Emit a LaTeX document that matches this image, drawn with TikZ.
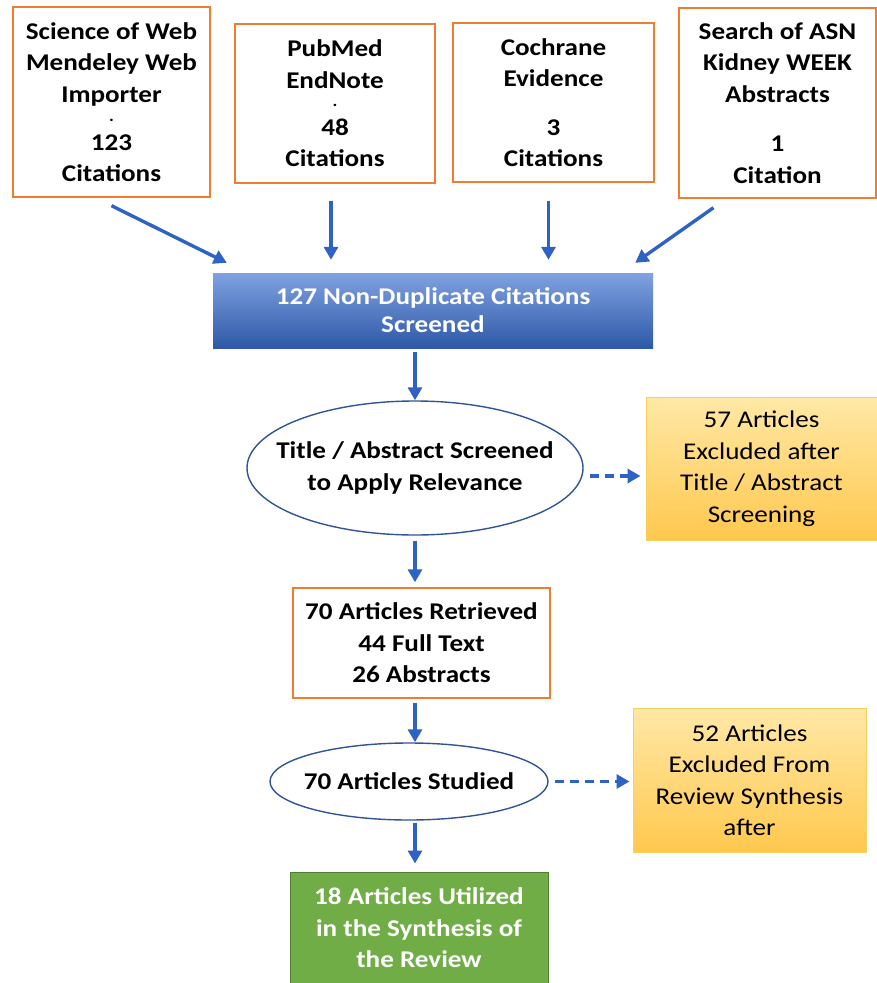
\documentclass[tikz,border=0pt]{standalone}
\usepackage{fontspec}
\setmainfont{Carlito}[FakeStretch=1.13]
\usetikzlibrary{arrows.meta,shapes.geometric,calc}

\definecolor{srcorange}{HTML}{ED7D31}
\definecolor{flowblue}{HTML}{2E62C4}
\definecolor{ovalblue}{HTML}{2F5597}
\definecolor{screentop}{HTML}{7FA2E0}
\definecolor{screenbot}{HTML}{2E58A8}
\definecolor{excltop}{HTML}{FFE8A6}
\definecolor{exclbot}{HTML}{FFC84E}
\definecolor{excledge}{HTML}{F8CF5C}
\definecolor{keepgreen}{HTML}{70AD47}
\definecolor{keepedge}{HTML}{507E32}

\begin{document}
\begin{tikzpicture}[x=1pt, y=-1pt, font=\fontsize{24}{31.5}\selectfont\bfseries,
  src/.style={draw=srcorange, line width=1.4pt, align=center, inner sep=0pt},
  flow/.style={draw=flowblue, line width=3.4pt, -{Triangle[length=13pt,width=14pt]}},
  dflow/.style={flow, dash pattern=on 9pt off 6pt},
  oval/.style={ellipse, draw=ovalblue, line width=1.4pt, align=center,
    inner xsep=-40pt, inner ysep=-25pt},
  excl/.style={draw=excledge, line width=1pt, top color=excltop, bottom color=exclbot,
    align=center, inner sep=0pt, font=\fontsize{24}{31.5}\selectfont\mdseries}]
  \useasboundingbox (0,0) rectangle (877,983);
  % the four sources
  \node[src, minimum width=197pt, minimum height=190pt] (wos) at (111.5,102)
    {Science of Web\\Mendeley Web\\Importer\\[-12.5pt]{\fontsize{16}{16}\selectfont .}\\[-2.5pt]123\\Citations};
  \node[src, minimum width=200pt, minimum height=159pt] (pubmed) at (335,103.5)
    {PubMed\\EndNote\\[-13pt]{\fontsize{16}{16}\selectfont .}\\[-3pt]48\\Citations};
  \node[src, minimum width=201pt, minimum height=159pt] (cochrane) at (553.5,102.5)
    {Cochrane\\Evidence\\[17pt]3\\Citations};
  \node[src, minimum width=197pt, minimum height=190pt] (asn) at (777.5,103)
    {Search of ASN\\Kidney WEEK\\Abstracts\\[18pt]1\\Citation};
  % screening spine
  \node[top color=screentop, bottom color=screenbot, text=white, align=center,
    minimum width=440pt, minimum height=75pt, inner sep=0pt,
    font=\fontsize{24}{28}\selectfont\bfseries] (screen) at (433,310.5)
    {127 Non-Duplicate Citations\\Screened};
  \node[oval, minimum width=336pt, minimum height=134pt] (title) at (415,468)
    {Title / Abstract Screened\\to Apply Relevance};
  \node[excl, minimum width=231pt, minimum height=143pt] (excla) at (761.5,468.5)
    {57 Articles\\Excluded after\\Title / Abstract\\Screening};
  \node[src, minimum width=257pt, minimum height=110pt] (retr) at (421.5,643)
    {70 Articles Retrieved\\44 Full Text\\26 Abstracts};
  \node[oval, minimum width=278pt, minimum height=77pt] (study) at (409,781.5)
    {70 Articles Studied};
  \node[excl, minimum width=233pt, minimum height=144pt] (exclb) at (749.5,780)
    {52 Articles\\Excluded From\\Review Synthesis\\after};
  \node[fill=keepgreen, draw=keepedge, line width=1pt, text=white, align=center,
    minimum width=258pt, minimum height=112pt, inner sep=0pt] (keep) at (419,928)
    {18 Articles Utilized\\in the Synthesis of\\the Review};
  % arrows into the screening box
  \draw[flow] ($(wos.south)+(0,8)$) -- ($(screen.north west)+(14,-10)$);
  \draw[flow] ($(pubmed.south)+(-4,17)$) -- ($(pubmed.south|-screen.north)+(-4,-13)$);
  \draw[flow] ($(cochrane.south)+(-5,18)$) -- ($(cochrane.south|-screen.north)+(-5,-13)$);
  \draw[flow] ($(asn.south)+(-64,9)$) -- ($(screen.north east)+(-18,-10)$);
  % down the spine
  \draw[flow] ($(title.north|-screen.south)+(0,4)$) -- (title.north);
  \draw[flow] ($(title.south)+(0,5)$) -- ($(title.south|-retr.north)+(0,-5)$);
  \draw[flow] ($(title.south|-retr.south)+(0,4)$) -- (title.south|-study.north);
  \draw[flow] ($(title.south|-study.south)+(0,2)$) -- ($(title.south|-keep.north)+(0,-8)$);
  % exclusions
  \draw[dflow] ($(title.east)+(6,8)$) -- ($(excla.west|-title.east)+(-5,8)$);
  \draw[dflow] ($(study.east)+(6,0)$) -- ($(exclb.west|-study.east)+(-3,0)$);
\end{tikzpicture}
\end{document}
